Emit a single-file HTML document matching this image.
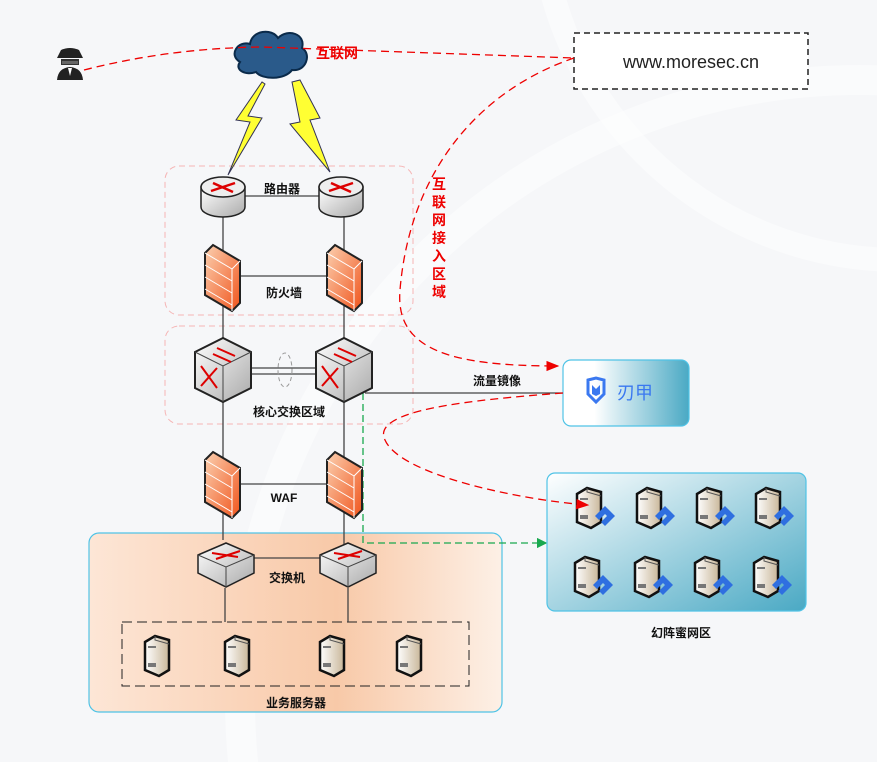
<!DOCTYPE html>
<html><head><meta charset="utf-8"><style>
html,body{margin:0;padding:0;background:#f6f7f9;width:877px;height:762px;overflow:hidden;}
svg{display:block;font-family:"Liberation Sans","Noto Sans CJK SC",sans-serif;}
.lb{font-size:12px;font-weight:bold;fill:#111;}
</style></head><body>
<svg width="877" height="762" viewBox="0 0 877 762" xmlns="http://www.w3.org/2000/svg">
<defs>
<linearGradient id="fw" x1="0" y1="0" x2="1" y2="1"><stop offset="0" stop-color="#fbd0b0"/><stop offset="1" stop-color="#f0541c"/></linearGradient>
<linearGradient id="rj" x1="0" y1="0" x2="1" y2="0"><stop offset="0.25" stop-color="#fff"/><stop offset="1" stop-color="#4aa9c4"/></linearGradient>
<linearGradient id="hp" x1="0" y1="0" x2="1" y2="1"><stop offset="0" stop-color="#fff"/><stop offset="1" stop-color="#4aa9c4"/></linearGradient>
<linearGradient id="or" x1="0" y1="0" x2="1" y2="0"><stop offset="0" stop-color="#fde6d6"/><stop offset="0.6" stop-color="#f8c9a8"/><stop offset="1" stop-color="#fdf0e6"/></linearGradient>
<linearGradient id="sv" x1="0" y1="0" x2="1" y2="0"><stop offset="0" stop-color="#fff"/><stop offset="1" stop-color="#c9b79a"/></linearGradient>
<linearGradient id="gr" x1="0" y1="0" x2="1" y2="1"><stop offset="0" stop-color="#fff"/><stop offset="1" stop-color="#aaa"/></linearGradient>
<marker id="ar" markerWidth="10" markerHeight="10" refX="9" refY="5" orient="auto"><path d="M0,1 L10,5 L0,9z" fill="#e00"/></marker>
<marker id="ag" markerWidth="8" markerHeight="8" refX="7" refY="4" orient="auto"><path d="M0,0 L8,4 L0,8z" fill="#1aa84f"/></marker>
<g id="fwi"><path d="M0,8 L8,0 L35,16 L35,58 L27,66 L0,50z" fill="url(#fw)" stroke="#222" stroke-width="2"/><path d="M0,20 L27,36 M0,32 L27,48 M0,44 L27,60 M0,8 L27,24 L27,66 M27,24 L35,16" stroke="#fff" stroke-width="1" fill="none"/></g>
<g id="rt"><path d="M0,10 L0,30 A22,10 0 0 0 44,30 L44,10z" fill="url(#gr)" stroke="#222" stroke-width="1.5"/><ellipse cx="22" cy="10" rx="22" ry="10" fill="#eee" stroke="#222" stroke-width="1.5"/><path d="M10,14 L34,6 M12,6 L32,15" stroke="#d00" stroke-width="2.5"/></g>
<g id="cs"><path d="M0,14 L28,0 L56,14 L56,50 L28,64 L0,50z" fill="url(#gr)" stroke="#222" stroke-width="2"/><path d="M0,14 L28,28 L56,14 M28,28 L28,64" stroke="#444" fill="none"/><path d="M22,10 L40,18 M18,16 L36,24 M6,28 L22,50 M6,48 L22,30" stroke="#d00" stroke-width="2"/></g>
<g id="sw"><path d="M0,12 L28,0 L56,12 L56,30 L28,44 L0,30z" fill="url(#gr)" stroke="#222" stroke-width="1.5"/><path d="M0,12 L28,24 L56,12 M28,24 L28,44" stroke="#444" fill="none"/><path d="M14,10 L40,14 M18,16 L42,8" stroke="#d00" stroke-width="2"/></g>
<g id="srv"><path d="M0,6 L10,0 L24,4 L24,34 L14,40 L0,34z" fill="url(#sv)" stroke="#111" stroke-width="2.5"/><path d="M10,0 L10,4 L24,8" stroke="#555" fill="none"/><rect x="3" y="10" width="8" height="2" fill="#777"/><rect x="3" y="27" width="8" height="4" fill="#777"/></g>
<g id="hs"><use href="#srv"/><path d="M18,28 L28,18 L38,28 L28,38 L24,34 L30,28 L28,26 L22,32z" fill="#2f6fe0"/></g>
</defs>
<circle cx="860" cy="700" r="620" fill="none" stroke="#fff" stroke-width="30" opacity="0.45"/>
<circle cx="900" cy="-100" r="360" fill="none" stroke="#fff" stroke-width="24" opacity="0.45"/>

<rect x="165" y="166" width="248" height="149" rx="14" fill="none" stroke="#f5b5b5" stroke-dasharray="6,4"/>
<rect x="165" y="326" width="248" height="98" rx="14" fill="none" stroke="#f5b5b5" stroke-dasharray="6,4"/>
<rect x="89" y="533" width="413" height="179" rx="10" fill="url(#or)" stroke="#4fc3e6" stroke-width="1.2"/>
<rect x="122" y="622" width="347" height="64" fill="none" stroke="#222" stroke-dasharray="10,5"/>

<g stroke="#444" stroke-width="1.3">
<line x1="223" y1="200" x2="223" y2="540"/><line x1="344" y1="200" x2="344" y2="545"/>
<line x1="244" y1="196" x2="320" y2="196"/><line x1="240" y1="276" x2="327" y2="276"/>
<line x1="250" y1="368" x2="318" y2="368"/><line x1="250" y1="374" x2="318" y2="374"/>
<line x1="240" y1="484" x2="327" y2="484"/><line x1="253" y1="558" x2="320" y2="558"/>
<line x1="225" y1="588" x2="225" y2="622"/><line x1="348" y1="588" x2="348" y2="622"/>
<line x1="365" y1="393" x2="563" y2="393"/>
</g>
<ellipse cx="285" cy="370" rx="7" ry="17" fill="none" stroke="#999" stroke-dasharray="4,3"/>
<path d="M363,393 L363,543 L546,543" fill="none" stroke="#1aa84f" stroke-width="1.3" stroke-dasharray="7,4" marker-end="url(#ag)"/>

<path d="M262,82 L236,120 L250,122 L228,175 L262,118 L248,116 L265,84z" fill="#ffff33" stroke="#335" stroke-width="1"/>
<path d="M292,82 L300,122 L290,124 L330,172 L310,120 L320,118 L300,80z" fill="#ffff33" stroke="#335" stroke-width="1"/>

<use href="#rt" x="201" y="177"/><use href="#rt" x="319" y="177"/>
<use href="#fwi" x="205" y="245"/><use href="#fwi" x="327" y="245"/>
<use href="#cs" x="195" y="338"/><use href="#cs" x="316" y="338"/>
<use href="#fwi" x="205" y="452"/><use href="#fwi" x="327" y="452"/>
<use href="#sw" x="198" y="543"/><use href="#sw" x="320" y="543"/>
<use href="#srv" x="145" y="636"/><use href="#srv" x="225" y="636"/><use href="#srv" x="320" y="636"/><use href="#srv" x="397" y="636"/>

<path d="M240,62 C228,55 238,40 250,44 C252,30 272,28 278,38 C288,28 306,34 302,48 C312,54 306,72 292,70 C285,80 262,80 256,72 C246,76 234,70 240,62z" fill="#2a5a8a" stroke="#0a2a4a" stroke-width="2"/>
<g transform="translate(55,46)"><path d="M2,12 L28,12 L24,4 Q15,0 6,4z" fill="#222"/><rect x="6" y="13" width="18" height="6" fill="#333"/><rect x="7" y="15" width="16" height="3" fill="#666"/><path d="M2,34 Q3,22 15,21 Q27,22 28,34z" fill="#222"/><path d="M13,22 L15,30 L17,22" fill="#fff"/></g>

<rect x="574" y="33" width="234" height="56" fill="#fff" stroke="#222" stroke-width="1.5" stroke-dasharray="6,4"/>
<text x="691" y="68" font-size="18" text-anchor="middle" fill="#222">www.moresec.cn</text>

<rect x="563" y="360" width="126" height="66" rx="8" fill="url(#rj)" stroke="#4fc3e6" stroke-width="1.2"/>
<path d="M588,380 L596,378 L604,380 L604,394 L596,402 L588,394z" fill="none" stroke="#3a78f0" stroke-width="3"/>
<path d="M592,385 L596,389 L600,385 L600,394 L596,396 L592,394z" fill="#3a78f0"/>
<text x="617" y="399" font-size="18" fill="#3a78f0">刃甲</text>

<rect x="547" y="473" width="259" height="138" rx="8" fill="url(#hp)" stroke="#4fc3e6" stroke-width="1.2"/>
<use href="#hs" x="577" y="488"/><use href="#hs" x="637" y="488"/><use href="#hs" x="697" y="488"/><use href="#hs" x="756" y="488"/>
<use href="#hs" x="575" y="557"/><use href="#hs" x="635" y="557"/><use href="#hs" x="695" y="557"/><use href="#hs" x="754" y="557"/>

<g fill="none" stroke="#e00" stroke-width="1.3" stroke-dasharray="8,5">
<path d="M84,70 Q170,48 262,47 L574,58"/>
<path d="M574,58 C480,90 410,170 400,290 C395,350 450,366 558,366" marker-end="url(#ar)"/>
<path d="M563,393 C470,400 370,410 385,440 C400,475 520,500 588,505" marker-end="url(#ar)"/>
</g>

<text x="316" y="58" font-size="14" fill="#e00" font-weight="bold">互联网</text>
<g font-size="14" fill="#e00" font-weight="bold" text-anchor="middle">
<text x="439" y="189">互</text><text x="439" y="207">联</text><text x="439" y="225">网</text><text x="439" y="243">接</text><text x="439" y="261">入</text><text x="439" y="279">区</text><text x="439" y="297">域</text></g>
<text class="lb" x="282" y="193" text-anchor="middle">路由器</text>
<text class="lb" x="284" y="297" text-anchor="middle">防火墙</text>
<text class="lb" x="289" y="416" text-anchor="middle">核心交换区域</text>
<text class="lb" x="284" y="502" text-anchor="middle" font-size="10">WAF</text>
<text class="lb" x="287" y="582" text-anchor="middle">交换机</text>
<text class="lb" x="296" y="707" text-anchor="middle">业务服务器</text>
<text class="lb" x="497" y="385" text-anchor="middle">流量镜像</text>
<text class="lb" x="681" y="637" text-anchor="middle">幻阵蜜网区</text>
</svg>
</body></html>
